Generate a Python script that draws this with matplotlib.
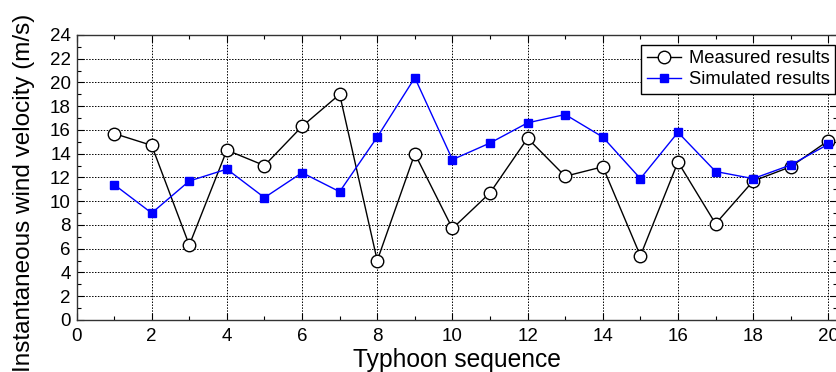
import matplotlib
matplotlib.use("Agg")
import matplotlib.pyplot as plt
from matplotlib.ticker import MultipleLocator

plt.rcParams['font.family'] = ['Liberation Sans', 'DejaVu Sans']

seq = list(range(1, 21))
measured = [15.7, 14.7, 6.3, 14.3, 13.0, 16.3, 19.0, 5.0, 14.0, 7.7,
            10.7, 15.3, 12.1, 12.9, 5.4, 13.3, 8.1, 11.7, 12.9, 15.1]
simulated = [11.4, 9.0, 11.7, 12.7, 10.3, 12.4, 10.8, 15.4, 20.4, 13.5,
             14.9, 16.6, 17.3, 15.4, 11.9, 15.8, 12.5, 11.9, 13.05, 14.8]

fig = plt.figure(figsize=(8.37, 3.72), dpi=100)
ax = fig.add_axes([0.0914, 0.140, 1.0 - 0.0914, 0.766])

ax.plot(seq, measured, color='black', lw=1.0, marker='o', ms=9,
        mfc='white', mec='black', mew=1.0, label='Measured results', zorder=3)
ax.plot(seq, simulated, color='#0000ff', lw=1.0, marker='s', ms=5.5,
        mfc='#0000ff', mec='#0000ff', label='Simulated results', zorder=4)

ax.set_xlim(0, 20.23)
ax.set_ylim(0, 24)
ax.xaxis.set_major_locator(MultipleLocator(2))
ax.xaxis.set_minor_locator(MultipleLocator(1))
ax.yaxis.set_major_locator(MultipleLocator(2))
ax.yaxis.set_minor_locator(MultipleLocator(1))
ax.tick_params(which='both', direction='in', top=True, right=True, labelsize=13.5)
ax.tick_params(axis='x', pad=6)
ax.tick_params(axis='y', pad=4)
ax.tick_params(which='major', length=5, width=0.8)
ax.tick_params(which='minor', length=3, width=0.8)
ax.grid(True, which='major', color='black', linestyle=(0, (1.5, 1.5)), linewidth=0.7)
for s in ax.spines.values():
    s.set_linewidth(1.0)
    s.set_color('#333333')

ax.set_xlabel('Typhoon sequence', fontsize=17.7, labelpad=2)
ax.set_ylabel('Instantaneous wind velocity (m/s)', fontsize=17.5)
ax.yaxis.set_label_coords(-0.054, 0.445)

leg = ax.legend(loc='upper right', bbox_to_anchor=(0.9975, 0.965), fontsize=13.2,
                frameon=True, fancybox=False, edgecolor='black', framealpha=1,
                handlelength=1.9, handletextpad=0.4, borderpad=0.3, labelspacing=0.2,
                borderaxespad=0)
leg.get_frame().set_linewidth(1.0)

fig.savefig('out.png', dpi=100)
